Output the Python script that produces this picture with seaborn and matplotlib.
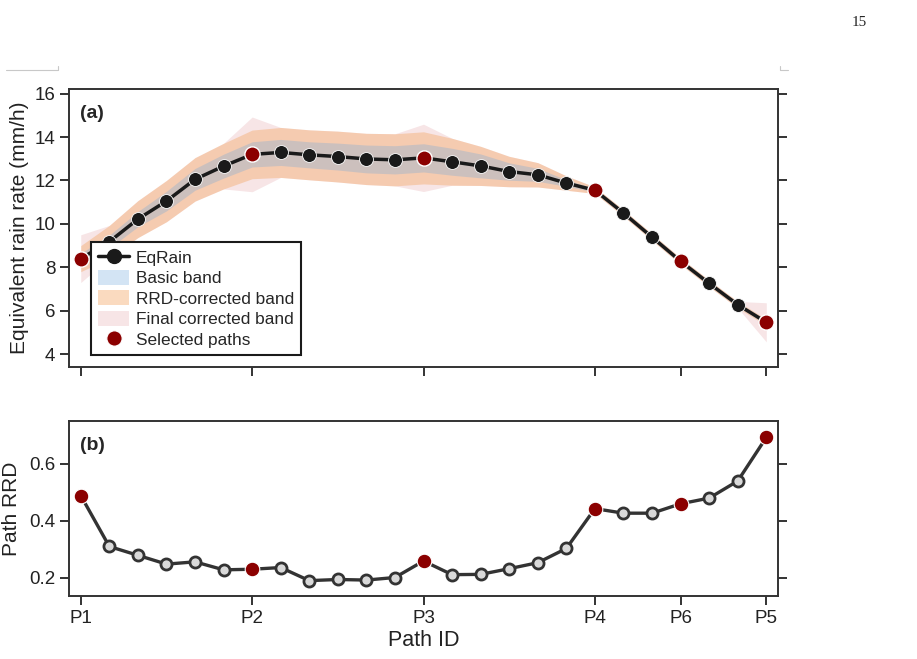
import numpy as np
import pandas as pd
import matplotlib
matplotlib.use("Agg")
import matplotlib.pyplot as plt
import seaborn as sns
from matplotlib.lines import Line2D
from matplotlib.patches import Patch

sns.set_theme(style="ticks")
plt.rcParams['font.family'] = ['Liberation Sans', 'DejaVu Sans']

# data
path_idx = list(range(25))
eq_rain = [8.40, 9.18, 10.22, 11.05, 12.05, 12.66, 13.20, 13.29, 13.18, 13.10, 12.99, 12.95,
           13.04, 12.86, 12.67, 12.41, 12.26, 11.88, 11.55, 10.50, 9.39, 8.28, 7.26, 6.28, 5.47]
basic_hw = [0.25, 0.30, 0.35, 0.45, 0.50, 0.55, 0.58, 0.60, 0.60, 0.62, 0.64, 0.65,
            0.65, 0.62, 0.55, 0.40, 0.30, 0.15, 0.08, 0.10, 0.10, 0.10, 0.10, 0.10, 0.10]
rrd_hw = [0.60, 0.75, 0.85, 0.95, 1.00, 1.05, 1.12, 1.15, 1.15, 1.17, 1.18, 1.20,
          1.20, 1.08, 0.90, 0.70, 0.56, 0.33, 0.15, 0.15, 0.15, 0.15, 0.15, 0.15, 0.15]
final_hw = [1.10, 0.75, 0.85, 0.95, 1.00, 1.05, 1.72, 1.15, 1.15, 1.17, 1.18, 1.20,
            1.55, 1.08, 0.90, 0.70, 0.56, 0.33, 0.15, 0.15, 0.15, 0.15, 0.15, 0.15, 0.90]
path_rrd = [0.488, 0.309, 0.278, 0.247, 0.255, 0.227, 0.229, 0.235, 0.189, 0.193, 0.191, 0.200,
            0.258, 0.210, 0.211, 0.231, 0.252, 0.302, 0.442, 0.426, 0.426, 0.459, 0.479, 0.539, 0.692]
selected_idx = [0, 6, 12, 18, 21, 24]
tick_labels = ['P1', 'P2', 'P3', 'P4', 'P6', 'P5']

df = pd.DataFrame({'idx': path_idx, 'rain': eq_rain, 'rrd': path_rrd,
                   'hb': basic_hw, 'hr': rrd_hw, 'hf': final_hw})
sel = df.iloc[selected_idx]

fig = plt.figure(figsize=(9.17, 6.59), dpi=100)
ax1 = fig.add_axes([0.0756, 0.4427, 0.7725, 0.4219])
ax2 = fig.add_axes([0.0756, 0.0956, 0.7725, 0.2656])

pink = '#e9b5b9'
orange = '#f4a460'
blue = '#6fa8dc'

# bands (a)
ax1.fill_between(df['idx'], df['rain'] - df['hf'], df['rain'] + df['hf'], color=pink, alpha=0.35, lw=0)
ax1.fill_between(df['idx'], df['rain'] - df['hr'], df['rain'] + df['hr'], color=orange, alpha=0.4, lw=0)
ax1.fill_between(df['idx'], df['rain'] - df['hb'], df['rain'] + df['hb'], color=blue, alpha=0.3, lw=0)
sns.lineplot(data=df, x='idx', y='rain', ax=ax1, color='#1a1a1a', linewidth=2.5,
             marker='o', markersize=10, markeredgecolor='white', markeredgewidth=0.6)
sns.scatterplot(data=sel, x='idx', y='rain', ax=ax1, color='#8b0000', s=120,
                edgecolor='white', linewidth=1.0, zorder=5)

# (b)
sns.lineplot(data=df, x='idx', y='rrd', ax=ax2, color='#333333', linewidth=2.4,
             marker='o', markersize=8, markerfacecolor='#d9d9d9',
             markeredgecolor='#333333', markeredgewidth=2.0)
sns.scatterplot(data=sel, x='idx', y='rrd', ax=ax2, color='#8b0000', s=110,
                edgecolor='white', linewidth=0.8, zorder=5)

for ax in (ax1, ax2):
    ax.set_xlim(-0.4, 24.4)
    ax.set_xticks(selected_idx)
    ax.tick_params(axis='both', direction='out', length=6.5, width=1.4, colors='#333333',
                   labelsize=13.5, labelcolor='#222222', right=True, top=False)
    for s in ax.spines.values():
        s.set_color('#333333')
        s.set_linewidth(1.4)

ax1.set_ylim(3.4, 16.2)
ax1.set_yticks([4, 6, 8, 10, 12, 14, 16])
ax1.set_xticklabels([])
ax1.set_xlabel('')
ax1.set_ylabel('Equivalent rain rate (mm/h)', fontsize=15, color='#222222')
ax1.text(0.015, 0.945, '(a)', transform=ax1.transAxes, fontsize=14, fontweight='bold',
         ha='left', va='top')

ax2.set_ylim(0.135, 0.75)
ax2.set_yticks([0.2, 0.4, 0.6])
ax2.set_xticklabels(tick_labels)
ax2.set_xlabel('Path ID', fontsize=15.5, color='#222222', labelpad=2)
ax2.set_ylabel('Path RRD', fontsize=15, color='#222222', labelpad=6)
ax2.text(0.015, 0.91, '(b)', transform=ax2.transAxes, fontsize=14, fontweight='bold',
         ha='left', va='top')

handles = [
    Line2D([], [], color='#1a1a1a', lw=2.5, marker='o', markersize=10, markeredgecolor='#1a1a1a'),
    Patch(facecolor=blue, alpha=0.3, lw=0),
    Patch(facecolor=orange, alpha=0.4, lw=0),
    Patch(facecolor=pink, alpha=0.35, lw=0),
    Line2D([], [], color='#8b0000', lw=0, marker='o', markersize=11, markeredgecolor='white',
           markeredgewidth=0.8),
]
labels = ['EqRain', 'Basic band', 'RRD-corrected band', 'Final corrected band', 'Selected paths']
leg = ax1.legend(handles, labels, loc='lower left', bbox_to_anchor=(0.031, 0.044), borderaxespad=0,
                 fontsize=12.4, frameon=True, fancybox=False, framealpha=1, edgecolor='#1a1a1a',
                 handlelength=1.8, handleheight=0.95, handletextpad=0.4, labelspacing=0.25,
                 borderpad=0.4)
leg.get_frame().set_linewidth(1.5)

# page decorations
fig.text(0.929, 0.966, '15', fontsize=11, family='Liberation Serif', ha='left', va='center')
fig.add_artist(Line2D([6 / 917, 58 / 917, 58 / 917], [1 - 70 / 659, 1 - 70 / 659, 1 - 66 / 659],
                      transform=fig.transFigure, color='#c8c8c8', lw=0.8))
fig.add_artist(Line2D([780 / 917, 780 / 917, 788 / 917], [1 - 66 / 659, 1 - 70 / 659, 1 - 70 / 659],
                      transform=fig.transFigure, color='#c8c8c8', lw=0.8))

fig.savefig('out.png', dpi=100)
